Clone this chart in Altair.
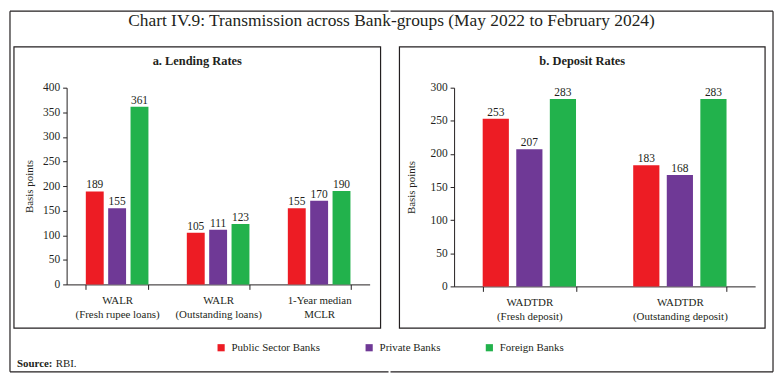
import altair as alt
import pandas as pd

FONT = "Liberation Serif"
INK = "#231f20"

banks = ["Public Sector Banks", "Private Banks", "Foreign Banks"]
colors = ["#ED1C24", "#6F3996", "#22B24C"]

lend_cats = ["WALR|(Fresh rupee loans)", "WALR|(Outstanding loans)", "1-Year median|MCLR"]
lend_psb = [189, 105, 155]
lend_pvt = [155, 111, 170]
lend_for = [361, 123, 190]

dep_cats = ["WADTDR|(Fresh deposit)", "WADTDR|(Outstanding deposit)"]
dep_psb = [253, 183]
dep_pvt = [207, 168]
dep_for = [283, 283]


def long(cats, a, b, c):
    rows = []
    for i, cat in enumerate(cats):
        for bank, vals in zip(banks, [a, b, c]):
            rows.append({"cat": cat, "bank": bank, "val": vals[i]})
    return pd.DataFrame(rows)


one = pd.DataFrame({"k": [0]})


def panel(df, cats, title, w, h, ymax, off_pad, ytitle_pad, box, outer, title_x, left_panel):
    x = alt.X("cat:N", sort=cats, title=None,
              scale=alt.Scale(paddingInner=0.38, paddingOuter=0.19),
              axis=alt.Axis(labelExpr="split(datum.label, '|')", labelAngle=0,
                            tickBand="extent", tickSize=5, labelPadding=5,
                            labelFontSize=11, labelLineHeight=14, domainWidth=1))
    xo = alt.XOffset("bank:N", sort=banks, scale=alt.Scale(paddingInner=off_pad, paddingOuter=0))
    y = alt.Y("val:Q", title="Basis points",
              scale=alt.Scale(domain=[0, ymax], nice=False),
              axis=alt.Axis(values=list(range(0, ymax + 1, 50)), tickSize=4,
                            labelPadding=3, labelFontSize=11.5, titleFontSize=11,
                            titleFontWeight="normal", titlePadding=ytitle_pad))
    bars = alt.Chart(df).mark_bar().encode(
        x=x, xOffset=xo, y=y,
        color=alt.Color("bank:N", sort=banks,
                        scale=alt.Scale(domain=banks, range=colors),
                        legend=alt.Legend(title=None, orient="none", direction="horizontal",
                                          legendX=150, legendY=256, symbolType="square",
                                          symbolSize=52, symbolStrokeWidth=0,
                                          labelFont=FONT, labelFontSize=11, labelColor=INK,
                                          columnPadding=43, labelOffset=5)))
    text = alt.Chart(df).mark_text(baseline="bottom", dy=-1, font=FONT, fontSize=11.5, color=INK).encode(
        x=x, xOffset=xo, y=y, text="val:Q")
    bx0, bx1, by0, by1 = box
    border = alt.Chart(one).mark_rect(fill="transparent", stroke=INK, strokeWidth=1.2).encode(
        x=alt.value(bx0), x2=alt.value(bx1), y=alt.value(by0), y2=alt.value(by1))
    ox0, ox1, oy0, oy1 = outer
    top = alt.Chart(one).mark_rule(color=INK, strokeWidth=1.2).encode(
        x=alt.value(ox0), x2=alt.value(ox1), y=alt.value(oy0))
    bot = alt.Chart(one).mark_rule(color=INK, strokeWidth=1.2).encode(
        x=alt.value(ox0), x2=alt.value(ox1), y=alt.value(oy1))
    side_x = ox0 if left_panel else ox1
    side = alt.Chart(one).mark_rule(color=INK, strokeWidth=1.2).encode(
        x=alt.value(side_x), y=alt.value(oy0), y2=alt.value(oy1))
    ptitle = alt.Chart(one).mark_text(text=title, align="center", baseline="middle",
                                      font=FONT, fontSize=12.5, fontWeight="bold", color=INK).encode(
        x=alt.value(title_x), y=alt.value(-27))
    layers = [border, top, bot, side, ptitle, bars, text]
    if left_panel:
        s1 = alt.Chart(one).mark_text(text="Source:", align="left", baseline="middle",
                                       font=FONT, fontSize=11, fontWeight="bold", color=INK).encode(
            x=alt.value(-50), y=alt.value(278))
        s2 = alt.Chart(one).mark_text(text="RBI.", align="left", baseline="middle",
                                       font=FONT, fontSize=11, color=INK).encode(
            x=alt.value(-11), y=alt.value(278))
        layers += [s1, s2]
    return alt.layer(*layers).properties(width=w, height=h)


lend = long(lend_cats, lend_psb, lend_pvt, lend_for)
dep = long(dep_cats, dep_psb, dep_pvt, dep_for)

pa = panel(lend, lend_cats, "a. Lending Rates", 305, 198, 400, 0.2, 8,
           (-53, 316, -41, 242), (-57, 324, -77, 286), 131.5, True)
pb = panel(dep, dep_cats, "b. Deposit Rates", 303, 200, 300, 0.22, 14,
           (-55, 313, -41, 242), (-64, 321, -77, 286), 129, False)

chart = alt.hconcat(pa, pb, spacing=0).resolve_scale(xOffset="independent").properties(
    padding=1,
    title=alt.TitleParams("Chart IV.9: Transmission across Bank-groups (May 2022 to February 2024)",
                          font=FONT, fontSize=17.5, fontWeight="normal", color=INK,
                          offset=-19, anchor="middle")
).configure_view(strokeWidth=0).configure_axis(
    grid=False, domainColor=INK, tickColor=INK, labelColor=INK, titleColor=INK,
    labelFont=FONT, titleFont=FONT
)

chart.save("out.html", embed_options={"renderer": "svg", "actions": False})
